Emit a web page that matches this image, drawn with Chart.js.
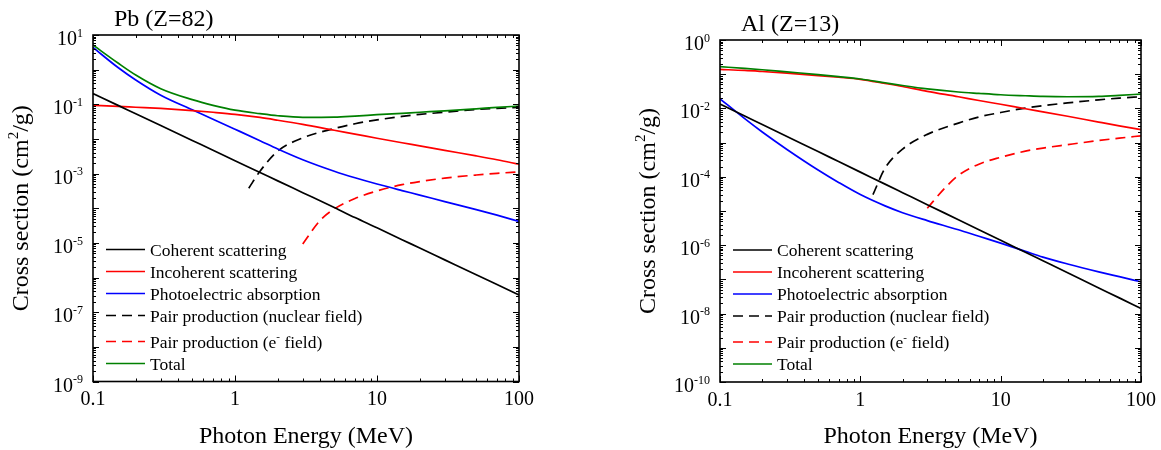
<!DOCTYPE html>
<html>
<head>
<meta charset="utf-8">
<script src="https://cdn.jsdelivr.net/npm/chart.js@4.4.1/dist/chart.umd.min.js"></script>
<style>
  body { margin: 0; background: #fff; }
  #wrap { position: relative; width: 1161px; height: 450px; background: #fff; }
  canvas { position: absolute; top: 0; }
</style>
</head>
<body>
<div id="wrap">
  <canvas id="pbChart" width="580" height="450" style="left:0"></canvas>
  <canvas id="alChart" width="581" height="450" style="left:580px"></canvas>
</div>
<script>
// photon energies (MeV) shared by the smooth curves
const energy = [0.1, 0.15, 0.2, 0.3, 0.5, 0.7, 1, 1.5, 2, 3, 5, 7, 10, 15, 20, 30, 50, 70, 100];

// Pb (Z=82), cm2/g
const pbCoherent   = [0.204, 0.0931, 0.0533, 0.0243, 9.04e-3, 4.72e-3, 2.36e-3, 1.08e-3, 6.17e-4, 2.82e-4, 1.05e-4, 5.37e-5, 2.73e-5, 1.24e-5, 7.13e-6, 3.24e-6, 1.2e-6, 6.31e-7, 3.16e-7];
const pbIncoherent = [0.0933, 0.0871, 0.0822, 0.0759, 0.0661, 0.0589, 0.0513, 0.0417, 0.0347, 0.0263, 0.0178, 0.0138, 0.0105, 7.76e-3, 6.31e-3, 4.68e-3, 3.24e-3, 2.51e-3, 1.86e-3];
const pbPhoto      = [4.37, 1.15, 0.501, 0.182, 0.0692, 0.0372, 0.0191, 8.91e-3, 5.13e-3, 2.51e-3, 1.17e-3, 7.59e-4, 5.01e-4, 3.24e-4, 2.4e-4, 1.55e-4, 9.12e-5, 6.31e-5, 4.17e-5];
const pbTotal      = [5.13, 1.55, 0.70, 0.282, 0.136, 0.0933, 0.0676, 0.0537, 0.0468, 0.0422, 0.0427, 0.0457, 0.0501, 0.055, 0.0589, 0.0646, 0.0741, 0.0813, 0.0891];
const pbPairNucE   = [1.25, 1.5, 2, 3, 5, 7, 10, 15, 20, 30, 50, 70, 100];
const pbPairNuc    = [3.8e-4, 1.17e-3, 4.47e-3, 0.0107, 0.02, 0.0275, 0.0355, 0.0447, 0.0513, 0.0589, 0.0708, 0.0759, 0.0813];
const pbPairElE    = [3, 4, 5, 7, 10, 15, 20, 30, 50, 70, 100];
const pbPairEl     = [9.33e-6, 4.57e-5, 9.55e-5, 1.91e-4, 3.16e-4, 4.79e-4, 5.89e-4, 7.41e-4, 9.12e-4, 1.02e-3, 1.12e-3];

// Al (Z=13), cm2/g
const alCoherent   = [0.0135, 6.01e-3, 3.39e-3, 1.51e-3, 5.46e-4, 2.79e-4, 1.37e-4, 6.11e-5, 3.44e-5, 1.53e-5, 5.55e-6, 2.84e-6, 1.39e-6, 6.21e-7, 3.5e-7, 1.56e-7, 5.64e-8, 2.88e-8, 1.42e-8];
const alIncoherent = [0.138, 0.129, 0.120, 0.107, 0.0912, 0.0813, 0.0708, 0.0537, 0.0437, 0.0316, 0.0219, 0.017, 0.0132, 9.77e-3, 7.94e-3, 5.89e-3, 3.98e-3, 3.09e-3, 2.4e-3];
const alPhoto      = [0.0191, 5.01e-3, 2.04e-3, 6.31e-4, 1.58e-4, 6.84e-5, 3.02e-5, 1.41e-5, 8.91e-6, 5.25e-6, 2.82e-6, 1.82e-6, 1.15e-6, 6.61e-7, 4.47e-7, 2.82e-7, 1.66e-7, 1.2e-7, 8.51e-8];
const alTotal      = [0.166, 0.148, 0.135, 0.117, 0.0977, 0.0851, 0.0724, 0.0562, 0.0468, 0.0372, 0.0302, 0.0275, 0.0251, 0.0234, 0.0224, 0.0219, 0.0224, 0.024, 0.0263];
const alPairNucE   = [1.23, 1.5, 2, 3, 5, 7, 10, 15, 20, 30, 50, 70, 100];
const alPairNuc    = [3.02e-5, 1.78e-4, 6.46e-4, 1.74e-3, 3.72e-3, 5.62e-3, 7.59e-3, 0.0102, 0.012, 0.0145, 0.0178, 0.02, 0.0219];
const alPairElE    = [3, 4, 5, 7, 10, 15, 20, 30, 50, 70, 100];
const alPairEl     = [1.2e-5, 4.68e-5, 1.1e-4, 2.34e-4, 3.72e-4, 5.62e-4, 6.92e-4, 8.71e-4, 1.15e-3, 1.35e-3, 1.58e-3];

const seriesLabels = ['Coherent scattering', 'Incoherent scattering', 'Photoelectric absorption',
                      'Pair production (nuclear field)', 'Pair production (e^{-} field)', 'Total'];
const xTickValues = [0.1, 1, 10, 100];
const xTickLabels = ['0.1', '1', '10', '100'];
const pbYTickExp = [1, -1, -3, -5, -7, -9];
const alYTickExp = [0, -2, -4, -6, -8, -10];

const FONT = '"Liberation Serif", "Times New Roman", serif';

function pts(xs, ys) {
    return xs.map((x, i) => ({x: x, y: ys[i]}));
}

function parseRich(str) {
    const parts = [];
    const re = /\^\{([^}]*)\}/g;
    let last = 0, m;
    while ((m = re.exec(str))) {
        if (m.index > last) parts.push([str.slice(last, m.index), false]);
        parts.push([m[1], true]);
        last = re.lastIndex;
    }
    if (last < str.length) parts.push([str.slice(last), false]);
    return parts;
}

// text with ^{..} superscripts
function richText(ctx, str, x, y, size, align) {
    const parts = parseRich(str);
    const sup = Math.round(size * 0.62);
    let w = 0;
    parts.forEach(p => {
        ctx.font = (p[1] ? sup : size) + 'px ' + FONT;
        w += ctx.measureText(p[0]).width;
    });
    let cx = align === 'right' ? x - w : align === 'center' ? x - w / 2 : x;
    ctx.textAlign = 'left';
    ctx.textBaseline = 'alphabetic';
    parts.forEach(p => {
        ctx.font = (p[1] ? sup : size) + 'px ' + FONT;
        ctx.fillText(p[0], cx, p[1] ? y - size * 0.42 : y);
        cx += ctx.measureText(p[0]).width;
    });
}

function panelPlugin(cfg) {
    return {
        id: 'panel',
        afterDraw(chart) {
            const ctx = chart.ctx, a = chart.chartArea;
            const xs = chart.scales.x, ys = chart.scales.y;
            ctx.save();
            ctx.strokeStyle = '#000';
            ctx.fillStyle = '#000';

            // inward ticks on all four sides
            ctx.lineWidth = 1;
            const ticks = (scale, horiz) => {
                const lo = Math.floor(Math.log10(scale.min) + 1e-9);
                const hi = Math.ceil(Math.log10(scale.max) - 1e-9);
                for (let k = lo; k <= hi; k++) {
                    for (let m = 1; m < 10; m++) {
                        const v = m * Math.pow(10, k);
                        if (v < scale.min * 0.999 || v > scale.max * 1.001) continue;
                        const p = Math.round(scale.getPixelForValue(v)) + 0.5;
                        const len = m === 1 ? 6 : 3;
                        ctx.beginPath();
                        if (horiz) {
                            ctx.moveTo(p, a.bottom); ctx.lineTo(p, a.bottom - len);
                            ctx.moveTo(p, a.top); ctx.lineTo(p, a.top + len);
                        } else {
                            ctx.moveTo(a.left, p); ctx.lineTo(a.left + len, p);
                            ctx.moveTo(a.right, p); ctx.lineTo(a.right - len, p);
                        }
                        ctx.stroke();
                    }
                }
            };
            ticks(xs, true);
            ticks(ys, false);

            ctx.lineWidth = 1.6;
            ctx.strokeRect(a.left, a.top, a.right - a.left, a.bottom - a.top);

            // tick labels
            xTickValues.forEach((v, i) => {
                richText(ctx, xTickLabels[i], xs.getPixelForValue(v), a.bottom + 23.5, 20, 'center');
            });
            cfg.yExp.forEach(e => {
                richText(ctx, '10^{' + e + '}', a.left - 10, ys.getPixelForValue(Math.pow(10, e)) + 10, 20, 'right');
            });

            // titles
            richText(ctx, cfg.title, a.left + 21, a.top - 9, 24, 'left');
            richText(ctx, 'Photon Energy (MeV)', (a.left + a.right) / 2, 443, 24, 'center');
            ctx.save();
            ctx.translate(a.left - 65, (a.top + a.bottom) / 2);
            ctx.rotate(-Math.PI / 2);
            richText(ctx, 'Cross section (cm^{2}/g)', 0, 0, 24, 'center');
            ctx.restore();

            // legend, lower left inside the frame
            const rows = [-132, -110, -88, -66, -40, -18];
            chart.data.datasets.forEach((ds, i) => {
                const yy = a.bottom + rows[i];
                ctx.strokeStyle = ds.borderColor;
                ctx.lineWidth = 1.6;
                ctx.setLineDash(ds.borderDash || []);
                ctx.beginPath();
                ctx.moveTo(a.left + 13, yy);
                ctx.lineTo(a.left + 52, yy);
                ctx.stroke();
                ctx.setLineDash([]);
                ctx.fillStyle = '#000';
                richText(ctx, ds.label, a.left + 57, yy + 6, 17.5, 'left');
            });
            ctx.restore();
        }
    };
}

function makeDatasets(coh, inc, pho, nucE, nuc, elE, el, tot) {
    const base = {borderWidth: 1.7, pointRadius: 0, fill: false, cubicInterpolationMode: 'monotone'};
    return [
        Object.assign({label: seriesLabels[0], data: pts(energy, coh), borderColor: '#000000'}, base),
        Object.assign({label: seriesLabels[1], data: pts(energy, inc), borderColor: '#ff0000'}, base),
        Object.assign({label: seriesLabels[2], data: pts(energy, pho), borderColor: '#0000ff'}, base),
        Object.assign({label: seriesLabels[3], data: pts(nucE, nuc), borderColor: '#000000', borderDash: [10, 6]}, base),
        Object.assign({label: seriesLabels[4], data: pts(elE, el), borderColor: '#ff0000', borderDash: [10, 6]}, base),
        Object.assign({label: seriesLabels[5], data: pts(energy, tot), borderColor: '#008000', order: -1}, base)
    ];
}

function makeChart(id, datasets, yMin, yMax, pad, yWidth, xHeight, cfg) {
    return new Chart(document.getElementById(id), {
        type: 'line',
        data: {datasets: datasets},
        options: {
            responsive: false,
            animation: false,
            devicePixelRatio: 1,
            layout: {padding: pad},
            plugins: {legend: {display: false}, tooltip: {enabled: false}},
            scales: {
                x: {
                    type: 'logarithmic', min: 0.1, max: 100,
                    grid: {display: false}, border: {display: false}, ticks: {display: false},
                    afterFit: s => { s.height = xHeight; }
                },
                y: {
                    type: 'logarithmic', min: yMin, max: yMax,
                    grid: {display: false}, border: {display: false}, ticks: {display: false},
                    afterFit: s => { s.width = yWidth; }
                }
            }
        },
        plugins: [panelPlugin(cfg)]
    });
}

makeChart('pbChart',
    makeDatasets(pbCoherent, pbIncoherent, pbPhoto, pbPairNucE, pbPairNuc, pbPairElE, pbPairEl, pbTotal),
    1e-9, 10, {top: 35, right: 61, left: 0, bottom: 0}, 93, 68.5,
    {title: 'Pb (Z=82)', yExp: pbYTickExp});

makeChart('alChart',
    makeDatasets(alCoherent, alIncoherent, alPhoto, alPairNucE, alPairNuc, alPairElE, alPairEl, alTotal),
    1e-10, 1, {top: 40, right: 20, left: 0, bottom: 0}, 140, 68,
    {title: 'Al (Z=13)', yExp: alYTickExp});
</script>
</body>
</html>
